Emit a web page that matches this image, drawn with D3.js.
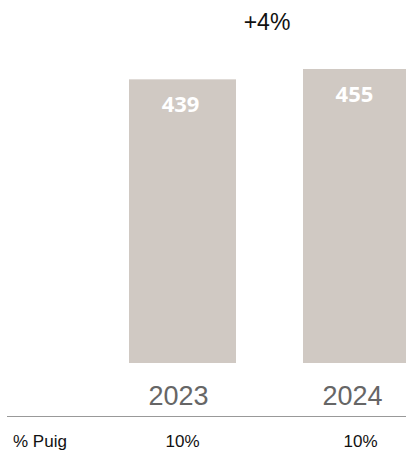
<!DOCTYPE html>
<html><head><meta charset="utf-8">
<script src="https://cdn.jsdelivr.net/npm/d3@7"></script>
<style>body{margin:0;background:#fff}svg{display:block}</style>
</head><body>
<script>
const categories = ["2023", "2024"];
const values = [439, 455];
const shares = ["10%", "10%"];
const rowLabel = "% Puig";
const growthLabel = "+4%";

const W = 406, H = 452;
const svg = d3.select("body").append("svg").attr("width", W).attr("height", H);

const x = d3.scaleBand().domain(categories).range([129, 410]).paddingInner(0.385).paddingOuter(0);
const y = d3.scaleLinear().domain([0, 455]).range([363, 69]);

svg.selectAll("rect.bar").data(values).join("rect")
  .attr("class", "bar")
  .attr("x", (d, i) => x(categories[i]))
  .attr("width", x.bandwidth())
  .attr("y", d => y(d))
  .attr("height", d => y(0) - y(d))
  .attr("fill", "#d0c9c3");

svg.selectAll("text.val").data(values).join("text")
  .attr("class", "val")
  .attr("x", (d, i) => x(categories[i]) + x.bandwidth() / 2 - 2)
  .attr("y", d => y(d) + 33)
  .attr("text-anchor", "middle")
  .attr("font-family", "'Open Sans', sans-serif")
  .attr("font-weight", "bold")
  .attr("font-size", 22)
  .attr("fill", "#fff")
  .text(d => d);

svg.append("text")
  .attr("x", 267).attr("y", 30)
  .attr("text-anchor", "middle")
  .attr("font-family", "'Liberation Sans', Arial, sans-serif")
  .attr("font-size", 23)
  .attr("fill", "#111")
  .text(growthLabel);

svg.selectAll("text.cat").data(categories).join("text")
  .attr("class", "cat")
  .attr("x", d => x(d) + x.bandwidth() / 2 - 4)
  .attr("y", 405)
  .attr("text-anchor", "middle")
  .attr("font-family", "'Liberation Sans', Arial, sans-serif")
  .attr("font-size", 27)
  .attr("fill", "#666")
  .text(d => d);

svg.append("line")
  .attr("x1", 7).attr("x2", W).attr("y1", 416.5).attr("y2", 416.5)
  .attr("stroke", "#999").attr("stroke-width", 1.2);

svg.append("text")
  .attr("x", 13).attr("y", 447)
  .attr("font-family", "'Liberation Sans', Arial, sans-serif")
  .attr("font-size", 17)
  .attr("fill", "#111")
  .text(rowLabel);

svg.selectAll("text.share").data(shares).join("text")
  .attr("class", "share")
  .attr("x", (d, i) => x(categories[i]) + x.bandwidth() / 2 + (i === 0 ? 0 : 4))
  .attr("y", 447)
  .attr("text-anchor", "middle")
  .attr("font-family", "'Liberation Sans', Arial, sans-serif")
  .attr("font-size", 17)
  .attr("fill", "#111")
  .text(d => d);
</script>
</body></html>
